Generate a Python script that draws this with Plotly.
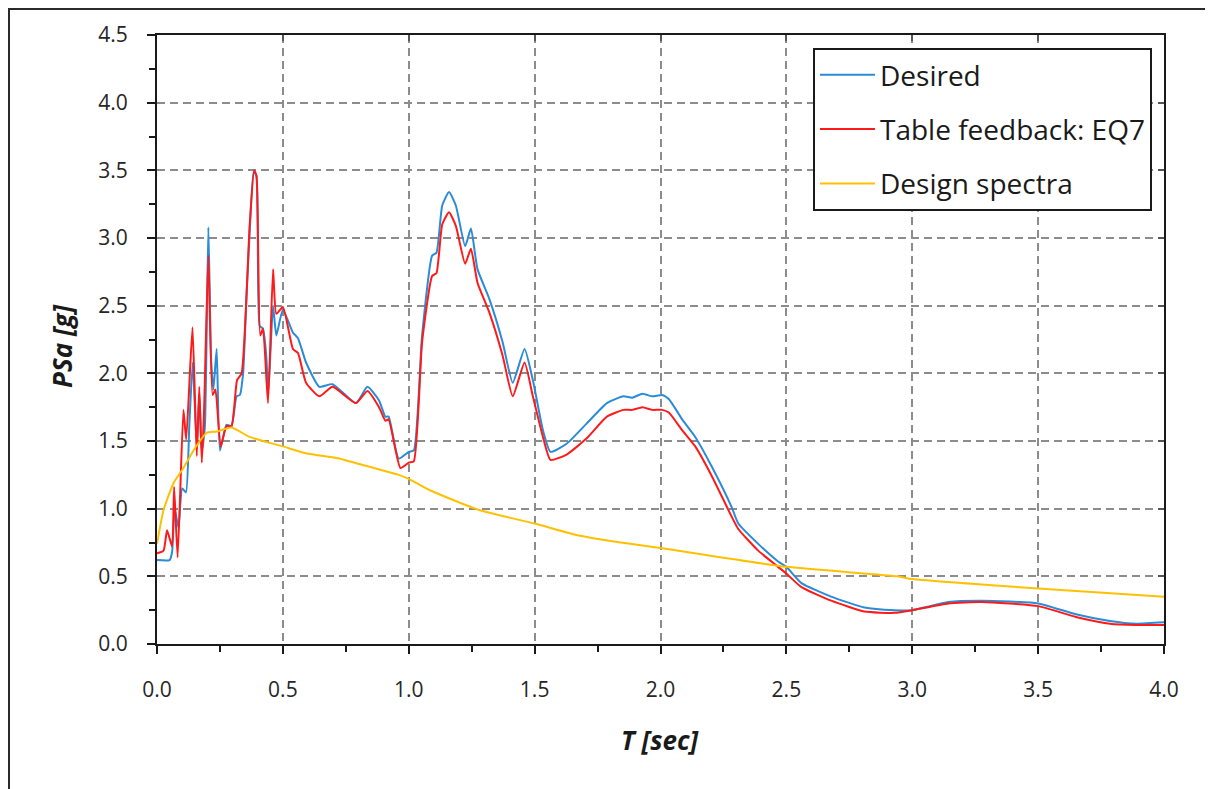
import plotly.graph_objects as go

# ---------------- data ----------------
t_desired = [0, 0.05, 0.06, 0.07, 0.085, 0.1, 0.115, 0.128, 0.142, 0.158, 0.168, 0.178, 0.19,
             0.204, 0.215, 0.224, 0.237, 0.25, 0.276, 0.296, 0.316, 0.329, 0.342, 0.355, 0.368,
             0.384, 0.395, 0.408, 0.421, 0.434, 0.442, 0.461, 0.474, 0.5, 0.54, 0.56, 0.592,
             0.645, 0.697, 0.79, 0.836, 0.882, 0.907, 0.92, 0.96, 1.0, 1.02, 1.053, 1.093, 1.11,
             1.133, 1.16, 1.187, 1.224, 1.247, 1.273, 1.32, 1.373, 1.413, 1.46, 1.493, 1.533,
             1.563, 1.627, 1.707, 1.787, 1.853, 1.888, 1.928, 1.967, 2.007, 2.033, 2.086, 2.138,
             2.204, 2.283, 2.309, 2.388, 2.467, 2.5, 2.56, 2.678, 2.81, 2.93, 3.0, 3.143, 3.277,
             3.5, 3.65, 3.785, 3.89, 4.0]
psa_desired = [0.62, 0.62, 0.68, 1.0, 0.86, 1.15, 1.12, 1.6, 2.08, 1.45, 1.85, 1.42, 1.6,
               3.08, 2.1, 1.88, 2.18, 1.43, 1.62, 1.61, 1.83, 1.84, 2.0, 2.55, 3.04,
               3.49, 3.46, 2.35, 2.33, 2.13, 1.85, 2.5, 2.28, 2.47, 2.30, 2.26, 2.08,
               1.90, 1.92, 1.78, 1.90, 1.80, 1.68, 1.68, 1.37, 1.42, 1.43, 2.28, 2.87, 2.89,
               3.24, 3.34, 3.24, 2.94, 3.07, 2.77, 2.55, 2.23, 1.93, 2.18, 1.95, 1.58,
               1.42, 1.48, 1.63, 1.78, 1.83, 1.82, 1.85, 1.83, 1.84, 1.81, 1.66, 1.53,
               1.31, 1.01, 0.89, 0.74, 0.61, 0.57, 0.45, 0.35, 0.27, 0.25, 0.25, 0.31, 0.32,
               0.30, 0.22, 0.17, 0.15, 0.16]

t_feedback = [0, 0.026, 0.04, 0.06, 0.068, 0.082, 0.105, 0.116, 0.141, 0.158, 0.168, 0.178,
              0.187, 0.204, 0.221, 0.232, 0.253, 0.276, 0.296, 0.318, 0.336, 0.368, 0.386,
              0.395, 0.41, 0.421, 0.441, 0.461, 0.474, 0.5, 0.54, 0.56, 0.592, 0.645, 0.697,
              0.79, 0.836, 0.882, 0.907, 0.92, 0.967, 1.0, 1.02, 1.053, 1.093, 1.11, 1.133,
              1.16, 1.187, 1.224, 1.247, 1.273, 1.32, 1.373, 1.413, 1.46, 1.493, 1.533, 1.563,
              1.627, 1.707, 1.787, 1.853, 1.888, 1.928, 1.967, 2.007, 2.033, 2.086, 2.138,
              2.204, 2.283, 2.309, 2.388, 2.467, 2.5, 2.56, 2.678, 2.81, 2.93, 3.0, 3.143,
              3.277, 3.5, 3.65, 3.785, 3.89, 4.0]
psa_feedback = [0.67, 0.69, 0.84, 0.72, 1.16, 0.64, 1.73, 1.51, 2.34, 1.39, 1.90, 1.34,
                1.73, 2.87, 1.84, 1.88, 1.46, 1.61, 1.61, 1.95, 2.0, 3.09, 3.5,
                3.46, 2.28, 2.33, 1.78, 2.77, 2.44, 2.49, 2.18, 2.15, 1.93, 1.83, 1.90,
                1.78, 1.87, 1.75, 1.65, 1.66, 1.30, 1.34, 1.35, 2.23, 2.72, 2.74, 3.10,
                3.19, 3.09, 2.81, 2.92, 2.67, 2.45, 2.13, 1.83, 2.08, 1.83, 1.53, 1.36,
                1.40, 1.52, 1.68, 1.73, 1.73, 1.75, 1.73, 1.73, 1.71, 1.58, 1.46,
                1.24, 0.94, 0.85, 0.69, 0.57, 0.52, 0.42, 0.32, 0.24, 0.23, 0.25, 0.30,
                0.31, 0.28, 0.20, 0.15, 0.14, 0.14]

t_design = [0, 0.026, 0.066, 0.105, 0.145, 0.197, 0.237, 0.296, 0.368, 0.5, 0.592, 0.724,
            0.763, 0.96, 1.0, 1.08, 1.28, 1.5, 1.68, 1.88, 2.0, 2.5, 2.94, 3.0, 3.5, 4.0]
psa_design = [0.74, 0.99, 1.19, 1.30, 1.43, 1.56, 1.57, 1.60, 1.53, 1.46, 1.41, 1.37,
              1.35, 1.25, 1.22, 1.14, 0.99, 0.89, 0.80, 0.74, 0.71, 0.57, 0.50, 0.48, 0.41, 0.35]

series_names = ["Desired", "Table feedback: EQ7", "Design spectra"]
x_title = "T [sec]"
y_title = "PSa [g]"

# ---------------- figure ----------------
FONT = "'Open Sans', Lato, sans-serif"
colors = ["#2B8BD6", "#FF1A1A", "#FFC000"]

fig = go.Figure()
for i, (tx, vy) in enumerate([(t_desired, psa_desired),
                               (t_feedback, psa_feedback),
                               (t_design, psa_design)]):
    fig.add_trace(go.Scatter(
        x=tx, y=vy, mode="lines", name=series_names[i],
        legendgroup=f"g{i}",
        line=dict(color=colors[i], width=2, shape="spline", smoothing=0.5),
    ))

# invisible trace so the mirrored (inside-tick) axes are drawn
fig.add_trace(go.Scatter(x=[None], y=[None], xaxis="x2", yaxis="y2",
                         showlegend=False, hoverinfo="skip"))

grid_dash = "8px,5px"
W, H = 1205, 781
L, R, T, B = 149, 49, 27, 145
PW, PH = W - L - R, H - T - B

fig.update_layout(
    width=W, height=H,
    margin=dict(l=L, r=R, t=T, b=B, autoexpand=False),
    paper_bgcolor="white", plot_bgcolor="white",
    font=dict(family=FONT, color="#262626", size=21),
    showlegend=True,
    legend=dict(
        x=(813 - 8 - L) / PW, y=(T + PH - 40) / PH, xanchor="left", yanchor="top",
        bgcolor="white", bordercolor="#1a1a1a", borderwidth=2,
        font=dict(family=FONT, size=28, color="#1a1a1a"),
        traceorder="grouped", tracegroupgap=15, itemwidth=55,
    ),
    xaxis=dict(
        range=[0, 4], dtick=0.5, tick0=0, tickformat=".1f",
        showline=True, linecolor="#1a1a1a", linewidth=2, mirror=True,
        ticks="outside", ticklen=8, tickwidth=2, tickcolor="#1a1a1a",
        ticklabelstandoff=18,
        minor=dict(dtick=0.25, ticks="outside", ticklen=6, tickwidth=2,
                   tickcolor="#1a1a1a", showgrid=False),
        showgrid=True, gridcolor="#8c8c8c", gridwidth=1.5, griddash=grid_dash,
        zeroline=False, fixedrange=True,
    ),
    yaxis=dict(
        range=[0, 4.5], dtick=0.5, tick0=0, tickformat=".1f",
        showline=True, linecolor="#1a1a1a", linewidth=2, mirror=True,
        ticks="outside", ticklen=8, tickwidth=2, tickcolor="#1a1a1a",
        ticklabelstandoff=15,
        minor=dict(dtick=0.25, ticks="outside", ticklen=6, tickwidth=2,
                   tickcolor="#1a1a1a", showgrid=False),
        showgrid=True, gridcolor="#8c8c8c", gridwidth=1.5, griddash=grid_dash,
        zeroline=False, fixedrange=True,
    ),
    xaxis2=dict(
        overlaying="x", side="top", anchor="y", range=[0, 4], dtick=0.5, tick0=0,
        ticks="inside", ticklen=6, tickwidth=1.5, tickcolor="#555555",
        showticklabels=False, showgrid=False, zeroline=False, showline=False,
    ),
    yaxis2=dict(
        overlaying="y", side="right", anchor="x", range=[0, 4.5], dtick=0.5, tick0=0,
        ticks="inside", ticklen=6, tickwidth=1.5, tickcolor="#555555",
        showticklabels=False, showgrid=False, zeroline=False, showline=False,
    ),
)

# axis titles
fig.add_annotation(text=f"<b><i>{x_title}</i></b>", xref="paper", yref="paper",
                   x=0.5, y=-0.158, xanchor="center", yanchor="middle", showarrow=False,
                   font=dict(family=FONT, size=26, color="#1a1a1a"))
fig.add_annotation(text=f"<b><i>{y_title}</i></b>", xref="paper", yref="paper",
                   x=-0.095, y=0.49, xanchor="center", yanchor="middle", showarrow=False,
                   textangle=-90, font=dict(family=FONT, size=26, color="#1a1a1a"))

# outer chart frame (figure pixel coords -> paper coords)
def px_x(fx):
    return (fx - L) / PW

def px_y(fy):
    return (T + PH - fy) / PH

fig.add_shape(type="rect", xref="paper", yref="paper",
              x0=px_x(1), x1=px_x(W - 2), y0=px_y(H + 20), y1=px_y(1),
              line=dict(color="#2a2a2a", width=2), fillcolor="rgba(0,0,0,0)", layer="below")

fig.write_html("out.html")
